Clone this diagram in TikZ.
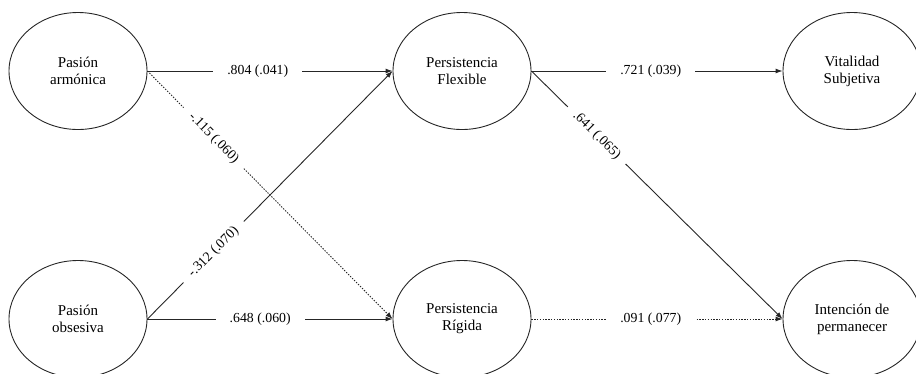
\documentclass[tikz,border=0pt]{standalone}
\usepackage{fontspec}
\setmainfont{Liberation Serif}
\usetikzlibrary{shapes.geometric,arrows.meta}
\begin{document}
\begin{tikzpicture}[x=1pt,y=-1pt,
  var/.style={ellipse,draw=black!85,line width=0.9pt,minimum width=138pt,minimum height=117pt,inner sep=0pt,align=center,font=\fontsize{15}{17}\selectfont},
  arr/.style={draw=black!85,line width=0.9pt,-{Latex[length=7pt,width=5pt]}},
  ns/.style={dash pattern=on 1.4pt off 1.4pt},
  lbl/.style={fill=white,inner xsep=14pt,inner ysep=2pt,font=\fontsize{13.8}{16}\selectfont}]
\useasboundingbox (0,0) rectangle (916,373);
\node[var] (pa) at (78,71) {Pasión\\armónica};
\node[var] (po) at (78,319) {Pasión\\obsesiva};
\node[var] (pf) at (462,71) {Persistencia\\Flexible};
\node[var] (pr) at (462,319) {Persistencia\\Rígida};
\node[var] (vs) at (852,71) {Vitalidad\\Subjetiva};
\node[var] (ip) at (852,319) {Intención de\\permanecer};
\draw[arr] (pa.east) -- node[lbl,pos=0.45]{.804 (.041)} (pf.west);
\draw[arr,ns] (pa.east) -- node[lbl,pos=0.27,sloped,inner xsep=10pt]{-.115 (.060)} (pr.west);
\draw[arr] (po.east) -- node[lbl,pos=0.27,sloped,inner xsep=10pt]{-.312 (.070)} (pf.west);
\draw[arr] (po.east) -- node[lbl,pos=0.46]{.648 (.060)} (pr.west);
\draw[arr] (pf.east) -- node[lbl,pos=0.475]{.721 (.039)} (vs.west);
\draw[arr] (pf.east) -- node[lbl,pos=0.26,sloped,inner xsep=10pt]{.641 (.065)} (ip.west);
\draw[arr,ns] (pr.east) -- node[lbl,pos=0.475]{.091 (.077)} (ip.west);
\end{tikzpicture}
\end{document}
